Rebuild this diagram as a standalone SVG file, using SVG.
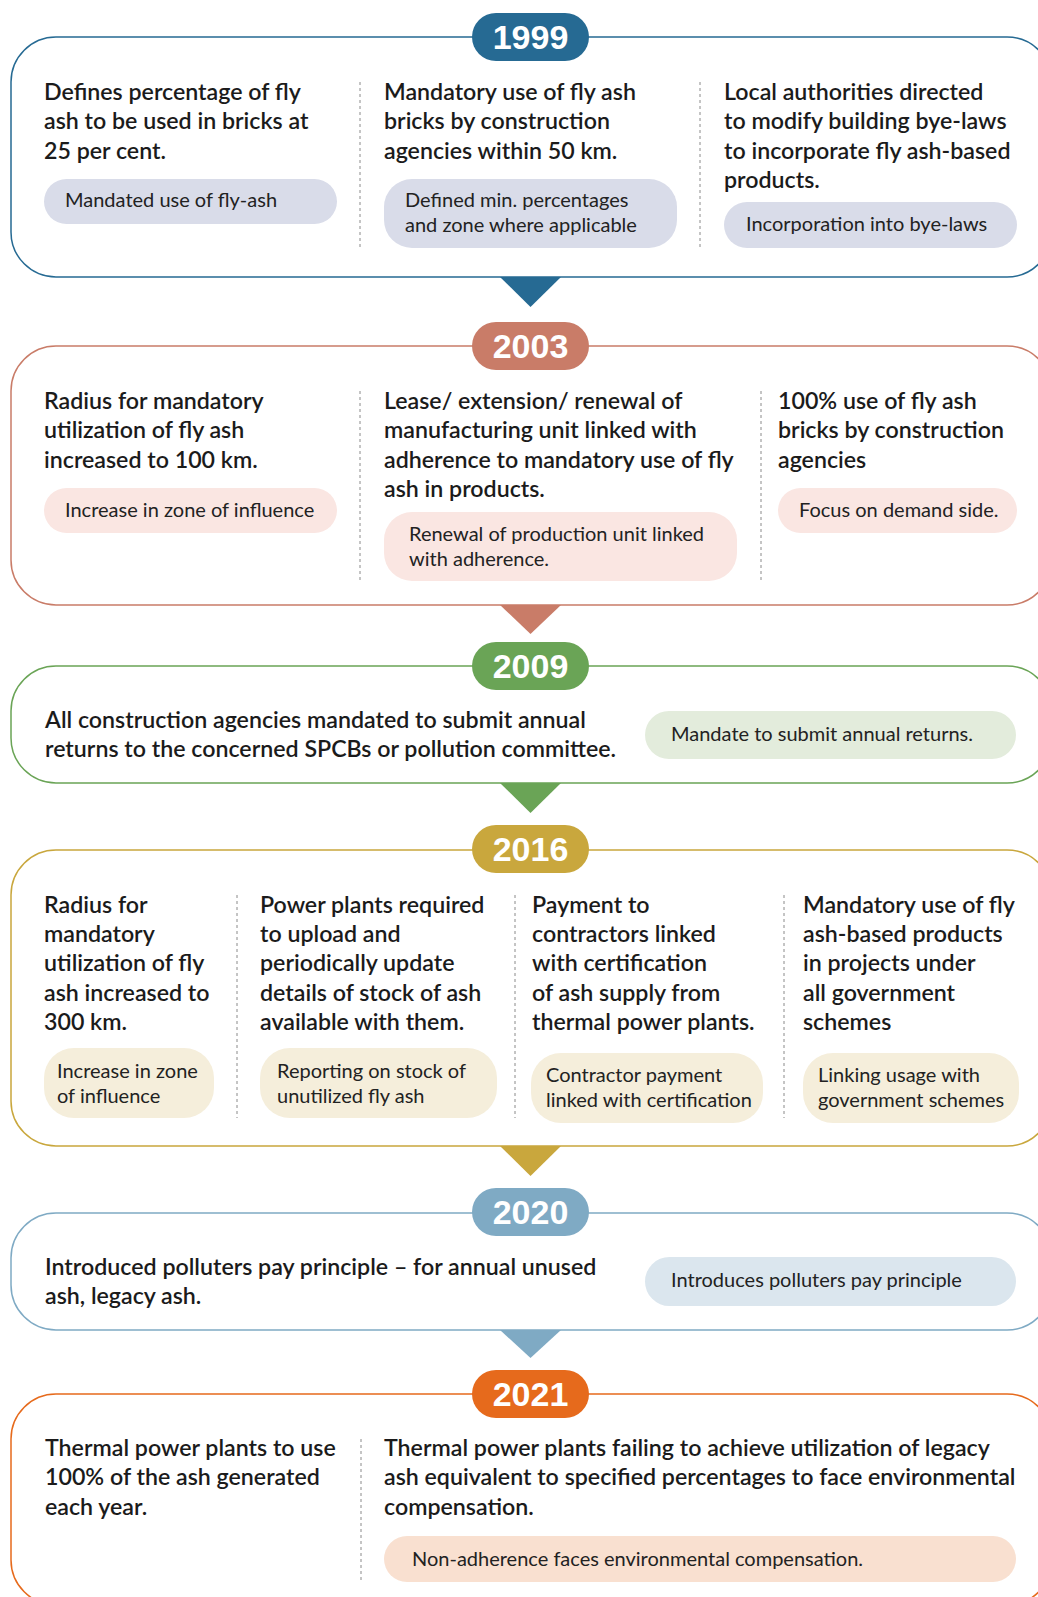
<svg xmlns="http://www.w3.org/2000/svg" width="1038" height="1597" viewBox="0 0 1038 1597">
  <style>
    .frame { fill: #ffffff; stroke-width: 1.5; }
    .div { stroke: #8a8a8a; stroke-width: 1; stroke-dasharray: 3 3; }
    .body { font-family: Lato, "Liberation Sans", sans-serif; font-weight: 600; font-size: 23.2px; fill: #1b1b1b; }
    .tag { font-family: Lato, "Liberation Sans", sans-serif; font-weight: 400; font-size: 20px; fill: #222222; }
    .year { font-family: "Liberation Sans", Arial, sans-serif; font-weight: 700; font-size: 34px; fill: #ffffff; text-anchor: middle; }
    .c1999 { stroke: #266a93; } .f1999 { fill: #266a93; } .t1999 { fill: #d9dce9; }
    .c2003 { stroke: #c97c68; } .f2003 { fill: #c97c68; } .t2003 { fill: #fae6e2; }
    .c2009 { stroke: #6aa456; } .f2009 { fill: #6aa456; } .t2009 { fill: #e3ecdc; }
    .c2016 { stroke: #c9a73d; } .f2016 { fill: #c9a73d; } .t2016 { fill: #f5eedb; }
    .c2020 { stroke: #7faac4; } .f2020 { fill: #7faac4; } .t2020 { fill: #dbe6ee; }
    .c2021 { stroke: #e66a1c; } .f2021 { fill: #e66a1c; } .t2021 { fill: #f9e0d0; }
  </style>
  <rect width="1038" height="1597" fill="#ffffff"/>

  <!-- 1999 -->
  <g id="node-1999">
    <rect class="frame c1999" x="11" y="37" width="1041" height="240" rx="45"/>
    <line class="div" x1="360" y1="82" x2="360" y2="248"/>
    <line class="div" x1="700" y1="82" x2="700" y2="248"/>
    <text class="body"><tspan x="44" y="100">Defines percentage of fly</tspan><tspan x="44" y="129.3">ash to be used in bricks at</tspan><tspan x="44" y="158.6">25 per cent.</tspan></text>
    <text class="body"><tspan x="384" y="100">Mandatory use of fly ash</tspan><tspan x="384" y="129.3">bricks by construction</tspan><tspan x="384" y="158.6">agencies within 50 km.</tspan></text>
    <text class="body"><tspan x="724" y="100">Local authorities directed</tspan><tspan x="724" y="129.3">to modify building bye-laws</tspan><tspan x="724" y="158.6">to incorporate fly ash-based</tspan><tspan x="724" y="187.9">products.</tspan></text>
    <rect class="t1999" x="44" y="179" width="293" height="45" rx="22.5"/>
    <text class="tag" x="65" y="207">Mandated use of fly-ash</text>
    <rect class="t1999" x="384" y="179" width="293" height="69" rx="28"/>
    <text class="tag"><tspan x="405" y="207">Defined min. percentages</tspan><tspan x="405" y="232">and zone where applicable</tspan></text>
    <rect class="t1999" x="724" y="202" width="293" height="46" rx="23"/>
    <text class="tag" x="746" y="231">Incorporation into bye-laws</text>
    <rect class="f1999" x="472" y="13" width="117" height="48" rx="24"/>
    <text class="year" x="530.5" y="49">1999</text>
  </g>

  <!-- 2003 -->
  <g id="node-2003">
    <rect class="frame c2003" x="11" y="346" width="1041" height="259" rx="45"/>
    <line class="div" x1="360" y1="391" x2="360" y2="582"/>
    <line class="div" x1="761" y1="391" x2="761" y2="582"/>
    <text class="body"><tspan x="44" y="409">Radius for mandatory</tspan><tspan x="44" y="438.3">utilization of fly ash</tspan><tspan x="44" y="467.6">increased to 100 km.</tspan></text>
    <text class="body"><tspan x="384" y="409">Lease/ extension/ renewal of</tspan><tspan x="384" y="438.3">manufacturing unit linked with</tspan><tspan x="384" y="467.6">adherence to mandatory use of fly</tspan><tspan x="384" y="496.9">ash in products.</tspan></text>
    <text class="body"><tspan x="778" y="409">100% use of fly ash</tspan><tspan x="778" y="438.3">bricks by construction</tspan><tspan x="778" y="467.6">agencies</tspan></text>
    <rect class="t2003" x="44" y="488" width="293" height="45" rx="22.5"/>
    <text class="tag" x="65" y="517">Increase in zone of influence</text>
    <rect class="t2003" x="384" y="512" width="353" height="69" rx="28"/>
    <text class="tag"><tspan x="409" y="541">Renewal of production unit linked</tspan><tspan x="409" y="566">with adherence.</tspan></text>
    <rect class="t2003" x="778" y="488" width="239" height="45" rx="22.5"/>
    <text class="tag" x="799" y="517">Focus on demand side.</text>
    <rect class="f2003" x="472" y="322" width="117" height="48" rx="24"/>
    <text class="year" x="530.5" y="358">2003</text>
  </g>

  <!-- 2009 -->
  <g id="node-2009">
    <rect class="frame c2009" x="11" y="666" width="1041" height="117" rx="45"/>
    <text class="body"><tspan x="45" y="728">All construction agencies mandated to submit annual</tspan><tspan x="45" y="757.3">returns to the concerned SPCBs or pollution committee.</tspan></text>
    <rect class="t2009" x="645" y="711" width="371" height="48" rx="24"/>
    <text class="tag" x="671" y="741">Mandate to submit annual returns.</text>
    <rect class="f2009" x="472" y="642" width="117" height="48" rx="24"/>
    <text class="year" x="530.5" y="678">2009</text>
  </g>

  <!-- 2016 -->
  <g id="node-2016">
    <rect class="frame c2016" x="11" y="850" width="1041" height="296" rx="45"/>
    <line class="div" x1="237" y1="895" x2="237" y2="1118"/>
    <line class="div" x1="515" y1="895" x2="515" y2="1118"/>
    <line class="div" x1="784" y1="895" x2="784" y2="1118"/>
    <text class="body"><tspan x="44" y="912.7">Radius for</tspan><tspan x="44" y="942">mandatory</tspan><tspan x="44" y="971.3">utilization of fly</tspan><tspan x="44" y="1000.6">ash increased to</tspan><tspan x="44" y="1029.9">300 km.</tspan></text>
    <text class="body"><tspan x="260" y="912.7">Power plants required</tspan><tspan x="260" y="942">to upload and</tspan><tspan x="260" y="971.3">periodically update</tspan><tspan x="260" y="1000.6">details of stock of ash</tspan><tspan x="260" y="1029.9">available with them.</tspan></text>
    <text class="body"><tspan x="532" y="912.7">Payment to</tspan><tspan x="532" y="942">contractors linked</tspan><tspan x="532" y="971.3">with certification</tspan><tspan x="532" y="1000.6">of ash supply from</tspan><tspan x="532" y="1029.9">thermal power plants.</tspan></text>
    <text class="body"><tspan x="803" y="912.7">Mandatory use of fly</tspan><tspan x="803" y="942">ash-based products</tspan><tspan x="803" y="971.3">in projects under</tspan><tspan x="803" y="1000.6">all government</tspan><tspan x="803" y="1029.9">schemes</tspan></text>
    <rect class="t2016" x="44" y="1048" width="170" height="70" rx="30"/>
    <text class="tag"><tspan x="57" y="1078">Increase in zone</tspan><tspan x="57" y="1103">of influence</tspan></text>
    <rect class="t2016" x="260" y="1048" width="237" height="70" rx="30"/>
    <text class="tag"><tspan x="277" y="1078">Reporting on stock of</tspan><tspan x="277" y="1103">unutilized fly ash</tspan></text>
    <rect class="t2016" x="531" y="1053" width="232" height="70" rx="30"/>
    <text class="tag"><tspan x="546" y="1082">Contractor payment</tspan><tspan x="546" y="1107">linked with certification</tspan></text>
    <rect class="t2016" x="803" y="1053" width="216" height="70" rx="30"/>
    <text class="tag"><tspan x="818" y="1082">Linking usage with</tspan><tspan x="818" y="1107">government schemes</tspan></text>
    <rect class="f2016" x="472" y="825" width="117" height="48" rx="24"/>
    <text class="year" x="530.5" y="861">2016</text>
  </g>

  <!-- 2020 -->
  <g id="node-2020">
    <rect class="frame c2020" x="11" y="1213" width="1041" height="117" rx="45"/>
    <text class="body"><tspan x="45" y="1275">Introduced polluters pay principle – for annual unused</tspan><tspan x="45" y="1304.3">ash, legacy ash.</tspan></text>
    <rect class="t2020" x="645" y="1257" width="371" height="49" rx="24.5"/>
    <text class="tag" x="671" y="1287">Introduces polluters pay principle</text>
    <rect class="f2020" x="472" y="1188" width="117" height="48" rx="24"/>
    <text class="year" x="530.5" y="1224">2020</text>
  </g>

  <!-- 2021 -->
  <g id="node-2021">
    <rect class="frame c2021" x="11" y="1394" width="1041" height="211" rx="45"/>
    <line class="div" x1="361" y1="1439" x2="361" y2="1582"/>
    <text class="body"><tspan x="45" y="1456">Thermal power plants to use</tspan><tspan x="45" y="1485.3">100% of the ash generated</tspan><tspan x="45" y="1514.6">each year.</tspan></text>
    <text class="body"><tspan x="384" y="1456">Thermal power plants failing to achieve utilization of legacy</tspan><tspan x="384" y="1485.3">ash equivalent to specified percentages to face environmental</tspan><tspan x="384" y="1514.6">compensation.</tspan></text>
    <rect class="t2021" x="384" y="1536" width="632" height="46" rx="23"/>
    <text class="tag" x="412" y="1566">Non-adherence faces environmental compensation.</text>
    <rect class="f2021" x="472" y="1370" width="117" height="48" rx="24"/>
    <text class="year" x="530.5" y="1406">2021</text>
  </g>

  <!-- arrows between years -->
  <g id="connectors">
    <polygon class="f1999" points="500,277 561,277 530.5,307"/>
    <polygon class="f2003" points="500,605 561,605 530.5,634"/>
    <polygon class="f2009" points="500,783 561,783 530.5,813"/>
    <polygon class="f2016" points="500,1146 561,1146 530.5,1176"/>
    <polygon class="f2020" points="500,1330 561,1330 530.5,1358"/>
  </g>
</svg>
